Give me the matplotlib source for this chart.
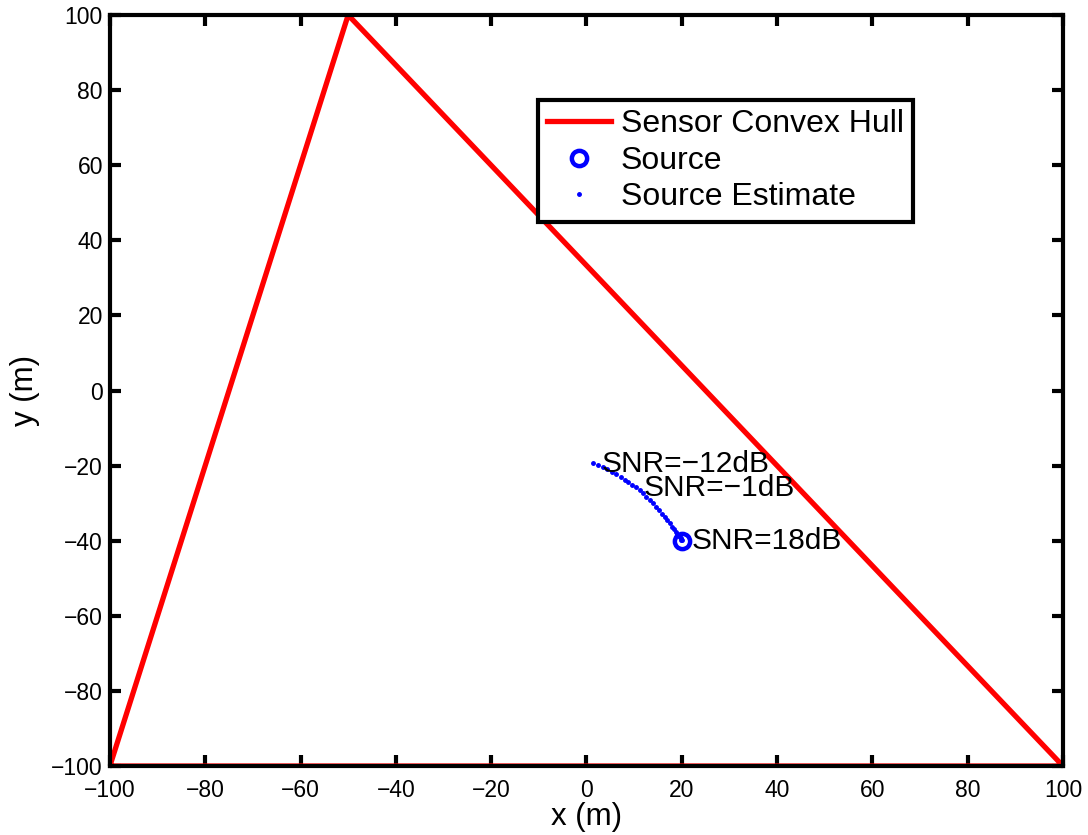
import matplotlib
matplotlib.use("Agg")
import matplotlib.pyplot as plt

plt.rcParams['font.family'] = ['Liberation Sans', 'DejaVu Sans']

# sensor convex hull (closed)
hull_x = [-100, -50, 100, -100]
hull_y = [-100, 100, -100, -100]

# true source
src_x = [20]
src_y = [-40]

# source estimates, SNR from -12 dB to 18 dB
est_x = [1.4, 2.4, 3.4, 4.4, 5.4, 6.3, 7.2, 8.0, 8.8, 9.6, 10.4, 11.2,
         11.9, 12.6, 13.3, 14.0, 14.7, 15.3, 15.9, 16.5, 17.0, 17.5, 18.0,
         18.4, 18.8, 19.1, 19.4, 19.6, 19.8, 19.9, 20.0]
est_y = [-19.3, -19.8, -20.4, -21.0, -21.6, -22.3, -23.0, -23.7, -24.4, -25.1, -25.8, -26.5,
         -27.4, -28.3, -29.1, -30.0, -31.0, -31.9, -32.8, -33.8, -34.6, -35.4, -36.3,
         -37.0, -37.7, -38.2, -38.7, -39.1, -39.4, -39.7, -39.9]

snr_labels = ['SNR=\u221212dB', 'SNR=\u22121dB', 'SNR=18dB']
snr_pos = [(3.2, -19.5), (12.0, -26.0), (22.0, -40.0)]

fig = plt.figure(figsize=(10.88, 8.35), dpi=100)
ax = fig.add_axes([0.101, 0.0826, 0.876, 0.8994])

ax.plot(hull_x, hull_y, color='#ff0000', lw=3.8, label='Sensor Convex Hull', zorder=2)
ax.plot(src_x, src_y, 'o', color='#0000ff', mfc='none', ms=11, mew=3.2,
        label='Source', zorder=4)
ax.plot(est_x, est_y, '.', color='#0000ff', ms=5, label='Source Estimate', zorder=3)

for lab, (tx, ty) in zip(snr_labels, snr_pos):
    ax.text(tx, ty, lab, fontsize=21.5, ha='left', va='center', zorder=5)

ax.set_xlim(-100, 100)
ax.set_ylim(-100, 100)
ax.set_xticks(range(-100, 101, 20))
ax.set_yticks(range(-100, 101, 20))
ax.tick_params(direction='in', top=True, right=True, length=8, width=3,
               labelsize=16.5)
ax.tick_params(axis='x', pad=9)
ax.tick_params(axis='y', pad=5)
for s in ax.spines.values():
    s.set_linewidth(3)
ax.set_xlabel('x (m)', fontsize=22.5, labelpad=0)
ax.set_ylabel('y (m)', fontsize=22.5, labelpad=8)

leg = ax.legend(loc='upper left', bbox_to_anchor=(0.449, 0.887), fontsize=23,
                fancybox=False, framealpha=1, edgecolor='black',
                handlelength=2, borderaxespad=0, borderpad=0.3,
                labelspacing=0.2, handletextpad=0.3)
leg.get_frame().set_linewidth(3)

fig.savefig('out.png', dpi=100)
